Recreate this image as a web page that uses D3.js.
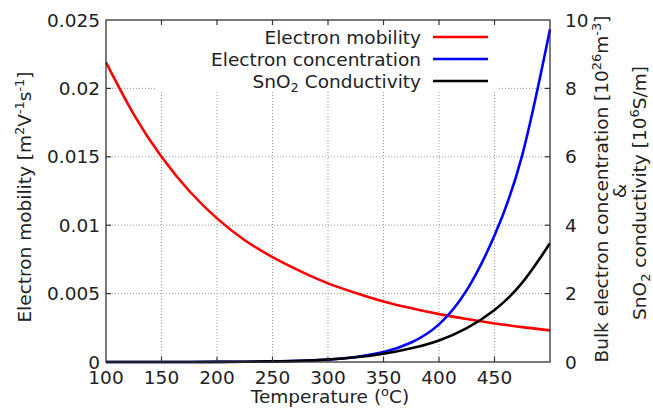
<!DOCTYPE html>
<html><head><meta charset="utf-8">
<script src="https://cdn.jsdelivr.net/npm/d3@7/dist/d3.min.js"></script>
<style>body{margin:0;background:#fff}svg{display:block}text{font-family:"DejaVu Sans",sans-serif;fill:#222}</style>
</head><body>
<svg id="c" width="653" height="408"></svg>
<script>
const temperature = [100,125,150,175,200,225,250,275,300,325,350,375,400,425,450,475,500];
const mobility    = [0.0219,0.0181,0.0150,0.0125,0.0105,0.0089,0.00767,0.00664,0.00575,0.00505,0.00443,0.00394,0.00350,0.00314,0.00282,0.00255,0.00231];
const concentration = [0,0.0001,0.0004,0.001,0.0025,0.006,0.014,0.032,0.07,0.145,0.29,0.57,1.1,2.1,3.7,6.05,9.73];
const conductivity  = [0,0,0.0002,0.0008,0.0025,0.007,0.017,0.037,0.075,0.137,0.24,0.40,0.63,0.99,1.52,2.32,3.47];
const xTicks = [100,150,200,250,300,350,400,450];
const yTicks = [0,0.005,0.01,0.015,0.02,0.025];
const yTickLabels = ["0","0.005","0.01","0.015","0.02","0.025"];
const y2Ticks = [0,2,4,6,8,10];
const seriesColors = ["#ff0000","#0000ff","#000000"];

const L=106,R=550,T=20,B=362, FS=18.5;
const svg=d3.select("#c");
const x=d3.scaleLinear().domain([100,500]).range([L,R]);
const y=d3.scaleLinear().domain([0,0.025]).range([B,T]);
const y2=d3.scaleLinear().domain([0,10]).range([B,T]);

// grid
const grid=svg.append("g").attr("stroke","#999").attr("stroke-width",1).attr("stroke-dasharray","1,2");
xTicks.slice(1).forEach(t=>grid.append("line").attr("x1",x(t)).attr("x2",x(t)).attr("y1",T).attr("y2",B));
yTicks.slice(1,-1).forEach(t=>grid.append("line").attr("x1",L).attr("x2",R).attr("y1",y(t)).attr("y2",y(t)));
// key box blanking
svg.append("rect").attr("x",156).attr("y",T+1).attr("width",342).attr("height",71).attr("fill","#fff");

// curves
const line=(ys,sc)=>d3.line().x((d,i)=>x(temperature[i])).y(d=>sc(Math.max(0,d))).curve(d3.curveNatural)(ys);
const data=[[mobility,y],[concentration,y2],[conductivity,y2]];
data.forEach((d,i)=>svg.append("path").attr("d",line(d[0],d[1])).attr("fill","none")
  .attr("stroke",seriesColors[i]).attr("stroke-width",2.6));

// frame & ticks
svg.append("rect").attr("x",L).attr("y",T).attr("width",R-L).attr("height",B-T).attr("fill","none").attr("stroke","#333").attr("stroke-width",1.3);
const tk=svg.append("g").attr("stroke","#333").attr("stroke-width",1.2);
xTicks.slice(1).forEach(t=>{tk.append("line").attr("x1",x(t)).attr("x2",x(t)).attr("y1",B).attr("y2",B-5);
  tk.append("line").attr("x1",x(t)).attr("x2",x(t)).attr("y1",T).attr("y2",T+5);});
yTicks.slice(1,-1).forEach(t=>{tk.append("line").attr("x1",L).attr("x2",L+5).attr("y1",y(t)).attr("y2",y(t));
  tk.append("line").attr("x1",R).attr("x2",R-5).attr("y1",y(t)).attr("y2",y(t));});

// tick labels
const g=svg.append("g").attr("font-size",FS);
xTicks.forEach(t=>g.append("text").attr("x",x(t)).attr("y",384).attr("text-anchor","middle").text(t));
yTicks.forEach((t,i)=>g.append("text").attr("x",100).attr("y",y(t)).attr("dy","0.36em").attr("text-anchor","end").text(yTickLabels[i]));
y2Ticks.forEach(t=>g.append("text").attr("x",565).attr("y",y2(t)).attr("dy","0.36em").text(t));

// rich text with super/subscripts (offsets in px)
function rich(sel,parts){let back=0;parts.forEach(p=>{const ts=sel.append("tspan").text(p.t);
  if(p.s==="sup"){ts.attr("font-size","0.7em").attr("dy",-back-7);back=-7;}
  else if(p.s==="sub"){ts.attr("font-size","0.7em").attr("dy",-back+4);back=4;}
  else {if(back!==0)ts.attr("dy",-back);back=0;}
});return sel;}

// x title
rich(g.append("text").attr("x",330).attr("y",403).attr("text-anchor","middle"),
  [{t:"Temperature ("},{t:"o",s:"sup"},{t:"C)"}]);
// left title
rich(g.append("text").attr("transform","translate(31,197) rotate(-90)").attr("text-anchor","middle"),
  [{t:"Electron mobility [m"},{t:"2",s:"sup"},{t:"V"},{t:"-1",s:"sup"},{t:"s"},{t:"-1",s:"sup"},{t:"]"}]);
// right titles
rich(g.append("text").attr("transform","translate(608,189) rotate(-90)").attr("text-anchor","middle"),
  [{t:"Bulk electron concentration [10"},{t:"26",s:"sup"},{t:"m"},{t:"-3",s:"sup"},{t:"]"}]);
g.append("text").attr("transform","translate(626,191) rotate(-90)").attr("text-anchor","middle").text("&");
rich(g.append("text").attr("transform","translate(646,193) rotate(-90)").attr("text-anchor","middle"),
  [{t:"SnO"},{t:"2",s:"sub"},{t:" conductivity [10"},{t:"6",s:"sup"},{t:"S/m]"}]);

// legend
const legY=[37,59,81];
const legParts=[[{t:"Electron mobility"}],[{t:"Electron concentration"}],[{t:"SnO"},{t:"2",s:"sub"},{t:" Conductivity"}]];
legParts.forEach((p,i)=>{
  rich(g.append("text").attr("x",421).attr("y",legY[i]+6.5).attr("text-anchor","end"),p);
  svg.append("line").attr("x1",433).attr("x2",488).attr("y1",legY[i]).attr("y2",legY[i]).attr("stroke",seriesColors[i]).attr("stroke-width",2.6);
});
</script>
</body></html>
